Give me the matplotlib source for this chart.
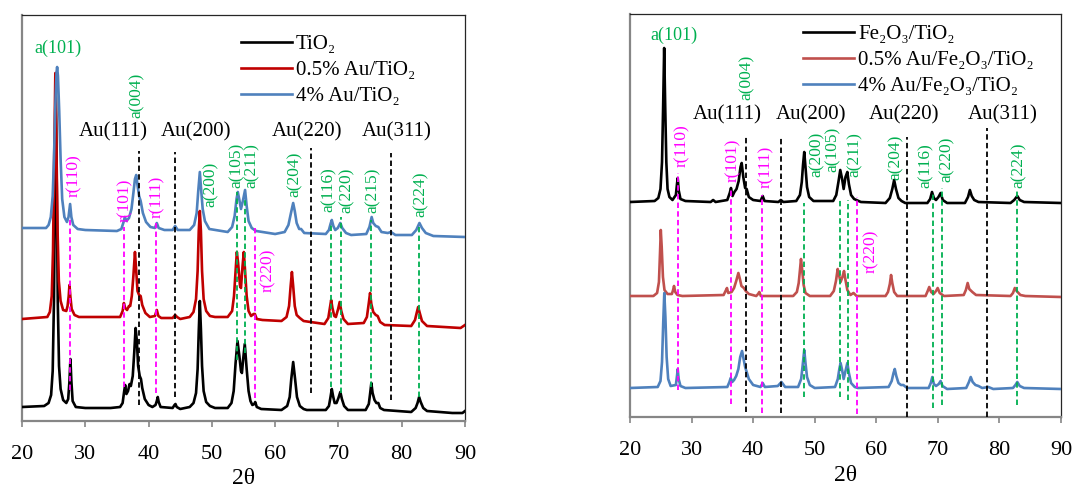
import numpy as np
import matplotlib
matplotlib.use('Agg')
import matplotlib.pyplot as plt

plt.rcParams['font.family'] = ['Liberation Serif', 'DejaVu Serif']

# ---- left panel: TiO2 series (x = 2theta, y = intensity with offset, a.u.)
tio2 = [(20, 14), (23.5, 15), (24.2, 18), (24.6, 26), (24.85, 50), (25.05, 120), (25.2, 230), (25.35, 330),
        (25.5, 230), (25.65, 120), (25.85, 55), (26.1, 32), (26.5, 21), (27.0, 18),
        (27.3, 22), (27.5, 40), (27.65, 62), (27.8, 40), (28.0, 20), (28.5, 14), (30, 13), (34, 13),
        (35.5, 14), (35.9, 18), (36.15, 30), (36.3, 36), (36.5, 27), (36.75, 30), (37.0, 37), (37.2, 35),
        (37.5, 45), (37.75, 70), (37.95, 93), (38.15, 80), (38.35, 55), (38.6, 45), (38.8, 42), (39.0, 33),
        (39.4, 22), (40.0, 16), (40.6, 14), (41.1, 16), (41.3, 20), (41.45, 24), (41.6, 19), (41.9, 14),
        (43.8, 13), (44.1, 16), (44.25, 17), (44.45, 14), (45, 12), (46.5, 14), (47.1, 18), (47.5, 28),
        (47.75, 52), (47.93, 90), (48.1, 120), (48.27, 92), (48.45, 55), (48.7, 30), (49.1, 19), (49.7, 15),
        (50.5, 13), (52.5, 13), (53.1, 18), (53.45, 30), (53.75, 58), (54.05, 80), (54.35, 65), (54.6, 50),
        (54.75, 48), (54.95, 62), (55.2, 77), (55.5, 52), (55.8, 30), (56.1, 20), (56.4, 16), (56.7, 17),
        (56.85, 19), (57.1, 14), (57.8, 12), (61.0, 11), (61.9, 15), (62.3, 24), (62.55, 42), (62.85, 59),
        (63.15, 42), (63.45, 24), (63.9, 15), (64.5, 12), (65, 11), (68.0, 11), (68.5, 15), (68.75, 24),
        (68.95, 32), (69.15, 25), (69.4, 18), (69.7, 18), (70.0, 23), (70.3, 29), (70.55, 22), (70.9, 15),
        (71.5, 11), (74.3, 11), (74.8, 17), (75.0, 27), (75.2, 38), (75.4, 28), (75.7, 21), (76.0, 18),
        (76.3, 18), (76.6, 13), (77.2, 11), (81.5, 9), (82.2, 13), (82.5, 18), (82.75, 24), (83.0, 19),
        (83.4, 13), (84.0, 10), (88, 8), (89.6, 8), (90, 10)]
au05_tio2 = [(20, 102), (24.0, 104), (24.4, 109), (24.7, 125), (24.9, 170), (25.08, 260), (25.27, 348),
             (25.45, 270), (25.62, 190), (25.82, 140), (26.1, 120), (26.5, 111), (27.0, 110),
             (27.2, 115), (27.38, 125), (27.5, 136), (27.65, 124), (27.85, 112), (28.3, 106), (29, 104),
             (35.5, 104), (35.9, 110), (36.1, 118), (36.3, 113), (36.6, 111), (36.9, 115), (37.1, 115),
             (37.35, 125), (37.6, 145), (37.85, 169), (38.05, 150), (38.25, 130), (38.5, 126), (38.75, 125),
             (39.0, 116), (39.5, 108), (40.2, 104), (41.0, 105), (41.3, 111), (41.55, 105), (42, 103),
             (43.8, 103), (44.2, 106), (44.5, 104), (45, 102), (46.5, 104), (47.1, 109), (47.5, 122),
             (47.75, 150), (47.93, 190), (48.1, 210), (48.27, 190), (48.45, 150), (48.7, 122), (49.1, 110),
             (49.7, 105), (50.5, 104), (52.5, 104), (53.2, 110), (53.5, 125), (53.75, 150), (53.95, 169),
             (54.15, 158), (54.45, 135), (54.6, 133), (54.85, 155), (55.05, 169), (55.25, 150), (55.5, 125),
             (55.8, 110), (56.2, 105), (56.6, 107), (56.8, 107), (57.1, 102), (58, 101), (61.0, 100),
             (61.8, 104), (62.2, 115), (62.45, 135), (62.65, 149), (62.85, 135), (63.1, 115), (63.4, 106),
             (63.9, 103), (64.5, 100), (67.8, 97), (68.4, 103), (68.65, 113), (68.85, 121), (69.05, 113),
             (69.35, 105), (69.6, 104), (69.95, 112), (70.2, 119), (70.45, 110), (70.8, 102), (71.5, 97),
             (74.0, 98), (74.5, 104), (74.8, 118), (75.0, 128), (75.2, 117), (75.5, 109), (75.9, 106),
             (76.2, 105), (76.6, 99), (77.3, 96), (81.5, 95), (82.1, 101), (82.4, 109), (82.6, 114),
             (82.85, 108), (83.2, 100), (84.0, 95), (89.3, 93), (90, 96)]
au4_tio2 = [(20, 193), (23.8, 193), (24.2, 196), (24.55, 204), (24.85, 225), (25.05, 262), (25.25, 312),
            (25.45, 348), (25.55, 354), (25.68, 345), (25.88, 310), (26.1, 262), (26.35, 222), (26.7, 204),
            (27.1, 199), (27.35, 204), (27.6, 217), (27.8, 204), (28.1, 196), (28.8, 192), (30, 191), (35, 190),
            (35.7, 192), (36.05, 199), (36.25, 204), (36.5, 200), (36.9, 203), (37.3, 212), (37.6, 228),
            (37.85, 242), (38.05, 246), (38.25, 236), (38.5, 225), (38.75, 220), (39.1, 208), (39.6, 199),
            (40.3, 194), (41.0, 193), (41.3, 198), (41.6, 193), (42.5, 191), (43.8, 191), (44.2, 195),
            (44.6, 191), (46.5, 191), (47.2, 196), (47.6, 208), (47.85, 230), (48.1, 249), (48.3, 232),
            (48.55, 212), (48.9, 200), (49.6, 192), (52.5, 189), (53.2, 194), (53.6, 205), (53.9, 222),
            (54.1, 229), (54.35, 221), (54.6, 212), (54.9, 220), (55.25, 231), (55.5, 215), (55.8, 200),
            (56.3, 193), (57, 190), (60, 187), (61.5, 189), (62.1, 196), (62.5, 208), (62.85, 218), (63.1, 210),
            (63.4, 198), (63.8, 192), (64.1, 192), (64.6, 188), (68.0, 187), (68.5, 191), (68.75, 197),
            (68.95, 201), (69.2, 195), (69.5, 191), (69.9, 193), (70.3, 198), (70.6, 193), (71.2, 188), (72, 186),
            (74.4, 187), (74.9, 194), (75.25, 204), (75.5, 198), (75.9, 195), (76.3, 194), (76.8, 189),
            (77.8, 188), (78.3, 189), (79, 186), (81.6, 186), (82.3, 191), (82.8, 198), (83.2, 193), (83.8, 188),
            (85, 185), (90, 184)]

# ---- right panel: Fe2O3/TiO2 series
fe = [(20, 215), (24.0, 216), (24.6, 219), (24.95, 228), (25.2, 255), (25.38, 310), (25.55, 369), (25.72, 310),
      (25.9, 255), (26.1, 228), (26.4, 220), (26.9, 217), (27.45, 222), (27.65, 234), (27.75, 239), (27.9, 227),
      (28.2, 218), (29, 216), (33.1, 215), (33.5, 217), (33.9, 215), (35.8, 217), (36.2, 224), (36.4, 229),
      (36.65, 221), (36.95, 225), (37.3, 228), (37.65, 236), (37.95, 250), (38.14, 254), (38.4, 240),
      (38.7, 229), (38.95, 228), (39.3, 220), (40, 217), (41.2, 216), (41.55, 221), (41.85, 216), (44.1, 215),
      (44.5, 217), (44.9, 215), (47.0, 216), (47.6, 222), (47.9, 235), (48.1, 252), (48.3, 265), (48.5, 250),
      (48.75, 230), (49.1, 220), (49.8, 216), (53.0, 216), (53.5, 222), (53.85, 235), (54.15, 247),
      (54.45, 238), (54.7, 228), (55.0, 240), (55.3, 245), (55.55, 233), (55.9, 222), (56.4, 218), (57.5, 215),
      (61.5, 214), (62.2, 219), (62.6, 228), (62.9, 237), (63.2, 228), (63.6, 219), (64.1, 216), (64.7, 214),
      (68.3, 214), (68.75, 218), (69.05, 225), (69.35, 219), (69.7, 217), (70.1, 220), (70.45, 224),
      (70.8, 217), (71.5, 214), (74.4, 214), (74.9, 220), (75.2, 227), (75.5, 221), (75.9, 217), (76.6, 215),
      (81.8, 214), (82.4, 217), (82.9, 221), (83.3, 217), (84, 215), (90, 214)]
au05_fe = [(20, 121), (23.8, 121), (24.4, 124), (24.7, 135), (24.88, 165), (25.0, 187), (25.15, 170),
           (25.35, 140), (25.6, 127), (26.1, 123), (26.8, 123), (27.0, 127), (27.15, 131), (27.35, 125),
           (27.7, 122), (28.5, 121), (35.2, 122), (35.6, 127), (35.75, 129), (35.95, 124), (36.5, 125),
           (36.9, 129), (37.25, 136), (37.6, 144), (37.85, 138), (38.1, 131), (38.5, 129), (38.8, 126),
           (39.3, 123), (40.5, 121), (40.8, 123), (41.0, 125), (41.25, 121), (46.5, 121), (47.1, 125),
           (47.4, 134), (47.62, 148), (47.77, 158), (47.95, 148), (48.2, 132), (48.5, 124), (49.2, 121),
           (52.5, 121), (53.1, 126), (53.45, 136), (53.73, 148), (53.95, 142), (54.2, 135), (54.5, 140),
           (54.76, 146), (55.0, 137), (55.3, 127), (55.8, 122), (56.3, 124), (56.8, 121), (61.5, 121),
           (61.9, 125), (62.2, 133), (62.4, 142), (62.6, 134), (62.9, 125), (63.4, 121), (68.0, 121),
           (68.35, 126), (68.6, 130), (68.9, 125), (69.3, 123), (69.7, 126), (69.97, 129), (70.3, 124),
           (71.0, 121), (74.2, 122), (74.55, 127), (74.84, 134), (75.1, 128), (75.6, 125), (76.2, 122),
           (81.8, 121), (82.2, 124), (82.5, 129), (82.8, 126), (83.4, 122), (84.2, 121), (90, 120)]
au4_fe = [(20, 29), (24.5, 30), (24.95, 36), (25.2, 55), (25.4, 95), (25.57, 124), (25.75, 100), (25.95, 60),
          (26.2, 38), (26.6, 31), (27.45, 32), (27.65, 42), (27.75, 48), (27.9, 38), (28.2, 31), (29, 29),
          (35.8, 30), (36.15, 35), (36.35, 39), (36.6, 35), (36.9, 37), (37.25, 41), (37.6, 48), (37.9, 60),
          (38.2, 66), (38.45, 58), (38.7, 50), (38.9, 46), (39.3, 38), (40.0, 32), (41.2, 30), (41.55, 34),
          (41.9, 30), (44.0, 31), (44.6, 35), (45.2, 30), (47.3, 30), (47.8, 38), (48.05, 52), (48.3, 67),
          (48.5, 54), (48.75, 40), (49.2, 32), (50, 29), (53.3, 30), (53.75, 38), (54.0, 48), (54.2, 54),
          (54.45, 47), (54.7, 38), (55.0, 46), (55.3, 54), (55.55, 44), (55.9, 34), (56.5, 30), (57, 29),
          (62.0, 30), (62.5, 36), (62.8, 44), (63.0, 48), (63.25, 41), (63.6, 34), (64.0, 32), (64.4, 32),
          (65, 29), (68.5, 29), (68.85, 34), (69.1, 40), (69.35, 33), (69.7, 31), (70.15, 33), (70.45, 36),
          (70.75, 31), (71.5, 28), (74.6, 29), (75.05, 35), (75.34, 40), (75.65, 35), (76.1, 32), (76.6, 31),
          (77.2, 29), (78.2, 30), (79, 28), (82.2, 29), (82.6, 32), (82.9, 35), (83.3, 31), (84, 29), (90, 28)]

# reference lines: (2theta, y_top, y_bottom, kind)
left_lines = [(27.6, 204, 31, 'r'), (36.1, 194, 34, 'r'), (38.45, 270, 16, 'au'), (41.25, 198, 28, 'r'),
              (44.25, 269, 24, 'au'), (54.0, 229, 61, 'a'), (55.3, 224, 68, 'a'), (56.8, 193, 23, 'r'),
              (65.6, 273, 28, 'au'), (68.9, 198, 34, 'a'), (70.4, 204, 28, 'a'), (75.1, 201, 34, 'a'),
              (78.3, 268, 21, 'au'), (82.8, 194, 24, 'a')]
right_lines = [(27.75, 244, 27, 'r'), (36.4, 229, 13, 'r'), (38.9, 280, 5, 'au'), (41.5, 222, 4, 'r'),
               (44.6, 280, 4, 'au'), (48.3, 214, 20, 'a'), (54.1, 217, 20, 'a'), (55.45, 217, 17, 'a'),
               (56.9, 220, 3, 'r'), (65.0, 280, 0, 'au'), (69.15, 224, 9, 'a'), (70.6, 229, 12, 'a'),
               (77.95, 289, 0, 'au'), (82.85, 227, 12, 'a')]

# rotated phase labels: (text, 2theta, y_bottom)
left_tags = [('r(110)', 28.2, 224), ('r(101)', 36.3, 199), ('a(004)', 38.2, 303), ('r(111)', 41.4, 203),
             ('a(200)', 49.8, 214), ('a(105)', 54.0, 233), ('a(211)', 56.3, 233), ('a(204)', 63.1, 224),
             ('a(116)', 68.4, 209), ('a(220)', 71.3, 208), ('a(215)', 75.5, 208), ('a(224)', 83.0, 204),
             ('r(220)', 58.9, 129)]
right_tags = [('r(110)', 28.4, 250), ('r(101)', 36.7, 235), ('a(004)', 38.95, 317), ('r(111)', 42.1, 229),
              ('a(200)', 50.3, 240), ('a(105)', 53.0, 245), ('a(211)', 56.5, 240), ('a(204)', 63.2, 237),
              ('a(116)', 68.1, 229), ('a(220)', 71.4, 235), ('a(224)', 83.2, 229), ('r(220)', 59.2, 144)]
au_names = ['Au(111)', 'Au(200)', 'Au(220)', 'Au(311)']
left_au_x = [34.5, 47.5, 65.0, 79.2]
right_au_x = [35.8, 49.4, 64.5, 80.5]

left_names = ['TiO₂', '0.5% Au/TiO₂', '4% Au/TiO₂']
right_names = ['Fe₂O₃/TiO₂', '0.5% Au/Fe₂O₃/TiO₂', '4% Au/Fe₂O₃/TiO₂']

GREEN = '#00B050'
MAGENTA = '#FF00FF'
line_colors = {'r': MAGENTA, 'a': GREEN, 'au': 'black'}

fig = plt.figure(figsize=(10.72, 4.88), dpi=100)


def draw_panel(ax, series, colors, names, lines, tags, au_x, au_y, a101, ytop, leg_anchor, xlab_pad):
    for s, c, n in zip(series, colors, names):
        xy = np.array(s)
        ax.plot(xy[:, 0], xy[:, 1], color=c, lw=1.9, label=n, zorder=3, solid_joinstyle='round')
    for x, yt, yb, kind in lines:
        ax.plot([x, x], [yb, yt], color=line_colors[kind], lw=1.3, ls=(0, (3, 1.8)), zorder=4)
    for t, x, y in tags:
        c = MAGENTA if t.startswith('r') else GREEN
        ax.text(x, y, t, rotation=90, ha='center', va='bottom', color=c, fontsize=12.5, zorder=5)
    for name, x in zip(au_names, au_x):
        ax.text(x, au_y, name, ha='center', va='center', fontsize=15, zorder=5)
    ax.text(a101[0], a101[1], 'a(101)', ha='center', va='center', color=GREEN, fontsize=13, zorder=5)

    ax.set_xlim(20, 90)
    ax.set_ylim(0, ytop)
    ax.set_xticks(range(20, 91, 10))
    ax.set_yticks([])
    ax.tick_params(axis='x', direction='out', length=4, width=1.2, color='#868686', labelsize=16, pad=13)
    for side in ['left', 'bottom']:
        ax.spines[side].set_color('#868686')
        ax.spines[side].set_linewidth(1.6)
    for side in ['top', 'right']:
        ax.spines[side].set_color('#262626')
        ax.spines[side].set_linewidth(0.9)
    ax.set_xlabel('2θ', fontsize=17, labelpad=xlab_pad)
    ax.legend(loc='upper left', bbox_to_anchor=leg_anchor, frameon=False, fontsize=15,
              handlelength=2.45, handletextpad=0.2, labelspacing=0.32, borderaxespad=0)


ax1 = fig.add_axes([22 / 1072, 67 / 488, 443 / 1072, 406 / 488])
draw_panel(ax1, [tio2, au05_tio2, au4_tio2], ['black', '#C00000', '#4F81BD'], left_names,
           left_lines, left_tags, left_au_x, 289, (25.7, 373), 406, (0.475, 0.973), 3)

ax2 = fig.add_axes([630 / 1072, 71 / 488, 431 / 1072, 403 / 488])
draw_panel(ax2, [fe, au05_fe, au4_fe], ['black', '#C0504D', '#4F81BD'], right_names,
           right_lines, right_tags, right_au_x, 302, (27.15, 382), 403, (0.382, 0.995), 4)

fig.savefig('out.png', dpi=100)
